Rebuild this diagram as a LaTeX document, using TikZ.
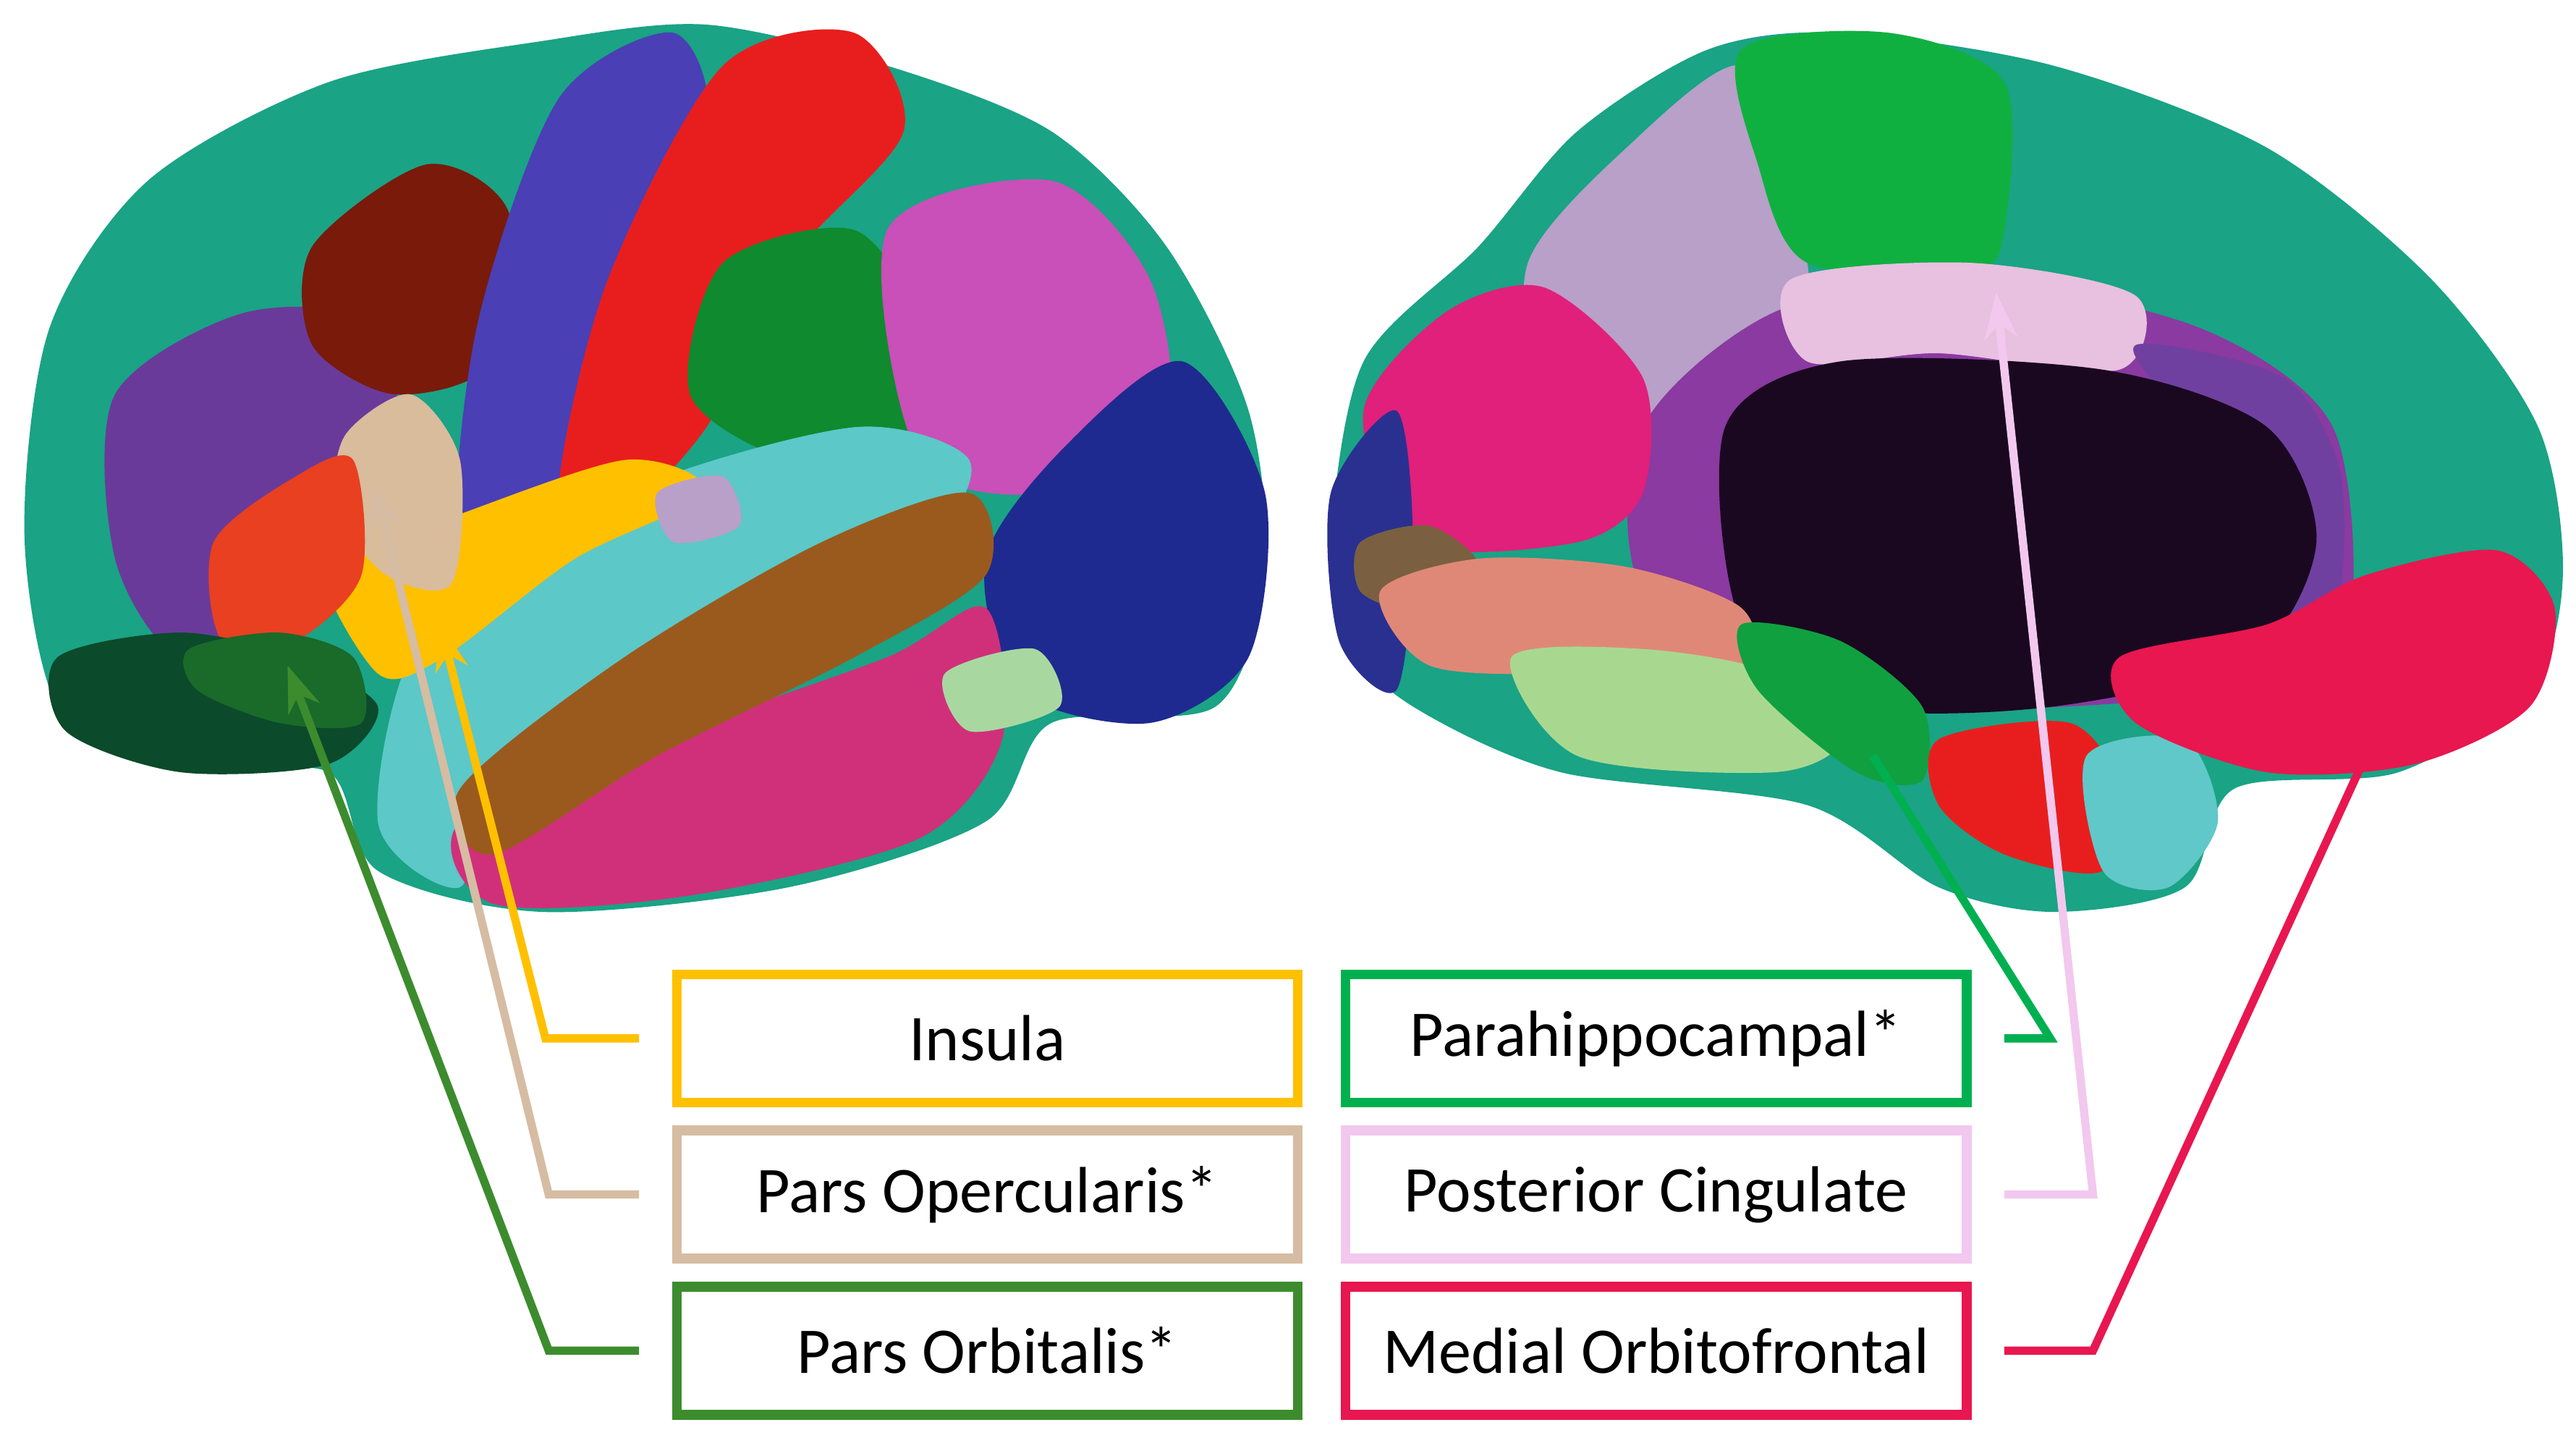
\documentclass[tikz,border=0pt]{standalone}
\usepackage{fontspec}
\setmainfont{Carlito}
\usetikzlibrary{arrows.meta}
\definecolor{cIns}{HTML}{FFC000}
\definecolor{cOp}{HTML}{D6BCA2}
\definecolor{cOrb}{HTML}{3C8C2E}
\definecolor{cPara}{HTML}{00B050}
\definecolor{cPC}{HTML}{F2C8EE}
\definecolor{cMO}{HTML}{E8174F}
\definecolor{teal}{HTML}{1AA385}
\tikzset{
 lbl/.style={draw=#1, line width=0.6mm, fill=white, minimum width=37.8mm, minimum height=7.8mm, font=\fontsize{11.3pt}{13pt}\selectfont, inner sep=0pt},
 con/.style={draw=#1, line width=0.5mm},
 arr/.style={con=#1, -{Stealth[length=2.8mm,width=2mm]}},
 reg/.code={\definecolor{tmpc}{HTML}{#1}\pgfkeysalso{fill=tmpc}}
}
\begin{document}
\begin{tikzpicture}[x=0.1mm,y=-0.1mm]
\useasboundingbox (0,0) rectangle (1568,875);
% ---------- left lateral brain ----------
\fill[teal] plot[smooth cycle] coordinates {(15,330)(30,200)(90,110)(200,50)(330,25)(430,15)(540,40)(640,80)(710,150)(760,250)(770,350)(740,430)(640,440)(600,500)(480,540)(330,555)(230,530)(200,470)(120,470)(40,440)};
\path[reg=6A3A9A] plot[smooth cycle] coordinates {(70,240)(150,190)(230,200)(240,300)(180,380)(110,400)(70,340)};
\path[reg=7A1A0A] plot[smooth cycle] coordinates {(190,150)(260,100)(310,130)(300,220)(240,240)(190,210)};
\path[reg=4A3FB5] plot[smooth cycle] coordinates {(340,60)(410,20)(430,80)(370,200)(340,330)(280,340)(290,200)};
\path[reg=E81E1E] plot[smooth cycle] coordinates {(440,40)(520,20)(550,80)(480,160)(430,260)(370,320)(340,300)(370,170)};
\path[reg=0F8A2E] plot[smooth cycle] coordinates {(440,160)(520,140)(560,200)(550,280)(480,280)(420,240)};
\path[reg=C850B8] plot[smooth cycle] coordinates {(540,140)(640,110)(700,170)(710,260)(640,300)(560,280)};
\path[reg=1E2A8F] plot[smooth cycle] coordinates {(650,270)(720,220)(770,300)(760,400)(700,440)(620,420)(600,340)};
\path[reg=5CC8C8] plot[smooth cycle] coordinates {(260,380)(380,300)(520,260)(590,280)(560,330)(420,380)(300,470)(280,540)(230,500)};
\path[reg=D0307A] plot[smooth cycle] coordinates {(280,500)(400,450)(540,400)(600,370)(610,450)(560,510)(420,545)(300,550)};
\path[reg=9A5A1E] plot[smooth cycle] coordinates {(280,480)(380,400)(500,330)(590,300)(600,350)(520,400)(400,460)(300,520)};
\path[reg=A8D8A0] plot[smooth cycle] coordinates {(575,410)(630,395)(645,430)(590,445)};
\path[reg=FFC000] plot[smooth cycle] coordinates {(195,340)(260,320)(380,280)(430,300)(350,340)(270,400)(230,410)};
\path[reg=B8A0C8] plot[smooth cycle] coordinates {(400,300)(440,290)(450,320)(410,330)};
\path[reg=D8BC9C] plot[smooth cycle] coordinates {(210,265)(250,240)(280,280)(275,355)(235,350)(205,310)};
\path[reg=E84020] plot[smooth cycle] coordinates {(130,330)(180,290)(215,280)(220,350)(180,390)(135,390)};
\path[reg=0B4A2A] plot[smooth cycle] coordinates {(35,400)(110,385)(180,400)(230,430)(200,465)(110,470)(40,445)};
\path[reg=1A6A2A] plot[smooth cycle] coordinates {(115,395)(170,385)(215,400)(220,440)(170,440)(120,420)};
% ---------- right medial brain ----------
\fill[teal] plot[smooth cycle] coordinates {(810,330)(830,220)(900,150)(960,80)(1040,30)(1120,20)(1250,40)(1380,90)(1480,170)(1545,260)(1560,350)(1540,420)(1460,470)(1360,480)(1330,540)(1250,555)(1180,540)(1100,490)(950,470)(860,430)(820,390)};
\path[reg=B8A0C8] plot[smooth cycle] coordinates {(930,160)(990,90)(1060,40)(1090,120)(1100,180)(1060,220)(1000,280)(940,240)};
\path[reg=10B040] plot[smooth cycle] coordinates {(1060,30)(1150,20)(1220,50)(1220,140)(1200,165)(1100,160)(1070,100)};
\path[reg=8A3AA0] plot[smooth cycle] coordinates {(1000,260)(1080,190)(1200,170)(1340,200)(1420,260)(1430,380)(1380,420)(1100,430)(1000,360)};
\path[reg=E8C0E0] plot[smooth cycle] coordinates {(1090,170)(1200,160)(1300,180)(1290,225)(1180,215)(1100,220)};
\path[reg=7040A0] plot[smooth cycle] coordinates {(1300,210)(1390,230)(1425,290)(1420,380)(1380,360)(1330,260)};
\path[reg=1A0820] plot[smooth cycle] coordinates {(1050,260)(1120,220)(1280,225)(1380,260)(1410,330)(1370,400)(1250,430)(1130,430)(1060,380)};
\path[reg=E0207A] plot[smooth cycle] coordinates {(830,250)(880,190)(940,175)(1000,230)(1000,300)(960,330)(860,330)};
\path[reg=2A3090] plot[smooth cycle] coordinates {(810,300)(850,250)(860,330)(850,420)(815,390)};
\path[reg=7A6040] plot[smooth cycle] coordinates {(828,330)(870,320)(900,345)(860,370)(828,360)};
\path[reg=E08878] plot[smooth cycle] coordinates {(840,360)(900,340)(990,345)(1060,370)(1060,405)(960,410)(870,405)};
\path[reg=A8D890] plot[smooth cycle] coordinates {(920,400)(1000,395)(1080,410)(1120,450)(1080,470)(960,460)};
\path[reg=10A040] plot[smooth cycle] coordinates {(1060,380)(1120,390)(1170,430)(1170,475)(1130,470)(1070,420)};
\path[reg=E81E1E] plot[smooth cycle] coordinates {(1180,450)(1260,440)(1290,480)(1280,530)(1220,520)(1180,490)};
\path[reg=60C8C8] plot[smooth cycle] coordinates {(1270,460)(1330,450)(1350,500)(1320,540)(1280,530)};
\path[reg=E8174F] plot[smooth cycle] coordinates {(1290,400)(1380,380)(1440,350)(1520,335)(1555,370)(1540,430)(1470,465)(1380,470)(1300,440)};
% ---------- labels ----------
\node[lbl=cIns] (ins) at (601,632) {Insula};
\node[lbl=cOp]  (op)  at (601,727) {Pars Opercularis*};
\node[lbl=cOrb] (orb) at (601,822) {Pars Orbitalis*};
\node[lbl=cPara](para) at (1008,632) {Parahippocampal*};
\node[lbl=cPC]  (pc)  at (1008,727) {Posterior Cingulate};
\node[lbl=cMO]  (mo)  at (1008,822) {Medial Orbitofrontal};
% ---------- anchor points ----------
\coordinate (tIns) at (268,380);
\coordinate (tOp) at (228,295);
\coordinate (tOrb) at (175,405);
\coordinate (tPara) at (1140,460);
\coordinate (tPC) at (1215,178);
\coordinate (tMO) at (1440,460);
\draw[arr=cIns] ([xshift=-2mm]ins.west) -- ++(-57,0) -- (tIns);
\draw[arr=cOp] ([xshift=-2mm]op.west) -- ++(-55,0) -- (tOp);
\draw[arr=cOrb] ([xshift=-2mm]orb.west) -- ++(-55,0) -- (tOrb);
\draw[con=cPara] ([xshift=2mm]para.east) -- ++(28,0) -- (tPara);
\draw[arr=cPC] ([xshift=2mm]pc.east) -- ++(54,0) -- (tPC);
\draw[con=cMO] ([xshift=2mm]mo.east) -- ++(54,0) -- (tMO);
\end{tikzpicture}
\end{document}
